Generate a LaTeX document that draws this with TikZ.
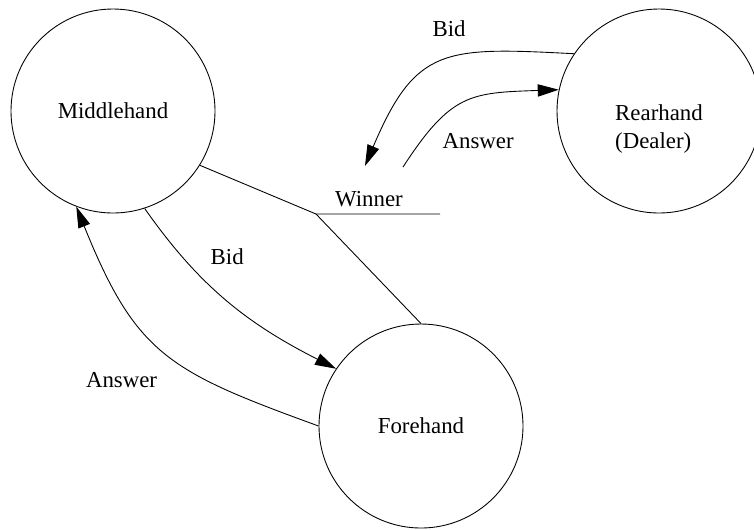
\documentclass[tikz,border=0pt]{standalone}
\usepackage{fontspec}
\setmainfont{Liberation Serif}
\usetikzlibrary{positioning,arrows.meta}

\begin{document}
\begin{tikzpicture}[every node/.style={on grid,node distance=2cm},
    hand/.style={draw,circle,minimum size=4.08cm,inner sep=0pt},
    flow/.style={-{Triangle[length=12pt,width=7pt]}},
    line width=0.5pt,font=\fontsize{13}{15.6}\selectfont]
    \useasboundingbox (0,0) rectangle (15.08,-10.58);
    \node[hand] (M) at (2.26,-2.22) {Middlehand};
    \node[hand,right=10.92cm of M,
      label={[align=left,yshift=-0.36cm]center:Rearhand\\(Dealer)}] (R) {};
    \node[hand,below right=6.3cm and 6.16cm of M] (F) {Forehand};
    \coordinate[below right=2.06cm and 4.06cm of M] (W);
    \coordinate[right=2.48cm of W] (We);
    \node[above right=0.3cm and 1.06cm of W,anchor=center] (WL) {Winner};
    \coordinate[above right=0.96cm and 0.98cm of W] (BidW);
    \coordinate[above right=0.94cm and 1.74cm of W] (AnsW);
    \draw (M.-32) -- (W) -- (We);
    \draw (W) -- (F.north);
    \draw[flow] (R.146) to[out=177,in=67,looseness=1.4]
      node[pos=0.4,xshift=-0.2cm,yshift=0.54cm] {Bid} (BidW);
    \draw[flow] (AnsW) to[out=57,in=182,looseness=1.3]
      node[pos=0.35,xshift=0.62cm,yshift=-0.56cm] {Answer} (R.168);
    \draw[flow] (M.-72) to[out=-55,in=153]
      node[pos=0.3,xshift=0.66cm,yshift=0.26cm] {Bid} (F.146);
    \draw[flow] (F.180) to[out=160,in=-68,looseness=1.25]
      node[pos=0.5,xshift=-0.84cm,yshift=-0.58cm] {Answer} (M.-111);
  \end{tikzpicture}
\end{document}
